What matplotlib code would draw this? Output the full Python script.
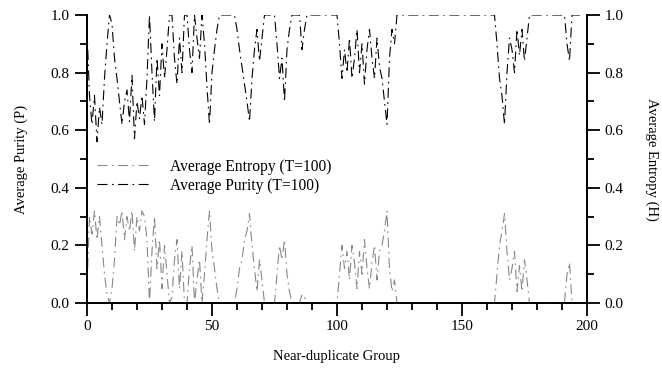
import numpy as np
import matplotlib
matplotlib.use("Agg")
import matplotlib.pyplot as plt
from matplotlib.ticker import MultipleLocator

plt.rcParams['font.family'] = ['Liberation Serif', 'DejaVu Serif']

groups = np.arange(200)

purity = [
    0.95, 0.72, 0.62, 0.72, 0.56, 0.68, 0.62, 0.78, 0.90, 1.00,
    0.97, 0.85, 0.78, 0.70, 0.62, 0.70, 0.74, 0.63, 0.79, 0.57,
    0.70, 0.64, 0.72, 0.62, 0.78, 1.00, 0.80, 0.63, 0.85, 0.72,
    0.90, 0.78, 0.88, 1.00, 1.00, 0.85, 0.76, 0.92, 0.80, 1.00,
    1.00, 0.88, 0.80, 1.00, 0.92, 0.85, 1.00, 0.90, 0.75, 0.62,
    0.80, 0.88, 0.95, 1.00, 1.00, 1.00, 1.00, 1.00, 1.00, 1.00,
    0.95, 0.88, 0.82, 0.76, 0.70, 0.63, 0.78, 0.88, 0.95, 0.84,
    0.92, 1.00, 1.00, 1.00, 1.00, 1.00, 0.90, 0.78, 0.85, 0.70,
    0.88, 0.95, 1.00, 1.00, 1.00, 1.00, 0.88, 0.95, 1.00, 1.00,
    1.00, 1.00, 1.00, 1.00, 1.00, 1.00, 1.00, 1.00, 1.00, 1.00,
    1.00, 0.90, 0.78, 0.88, 0.80, 0.92, 0.78, 0.85, 0.95, 0.80,
    0.90, 0.76, 0.88, 0.95, 0.85, 0.78, 0.92, 0.82, 0.78, 0.70,
    0.62, 0.85, 0.95, 0.90, 1.00, 1.00, 1.00, 1.00, 1.00, 1.00,
    1.00, 1.00, 1.00, 1.00, 1.00, 1.00, 1.00, 1.00, 1.00, 1.00,
    1.00, 1.00, 1.00, 1.00, 1.00, 1.00, 1.00, 1.00, 1.00, 1.00,
    1.00, 1.00, 1.00, 1.00, 1.00, 1.00, 1.00, 1.00, 1.00, 1.00,
    1.00, 1.00, 1.00, 1.00, 0.90, 0.78, 0.72, 0.62, 0.80, 0.92,
    0.88, 0.80, 0.95, 0.86, 0.95, 0.84, 0.92, 1.00, 1.00, 1.00,
    1.00, 1.00, 1.00, 1.00, 1.00, 1.00, 1.00, 1.00, 1.00, 1.00,
    1.00, 1.00, 0.90, 0.84, 1.00, 1.00, 1.00, 1.00, 1.00, 1.00,
]

entropy = [
    0.05, 0.30, 0.24, 0.32, 0.22, 0.30, 0.20, 0.10, 0.03, 0.00,
    0.05, 0.15, 0.30, 0.27, 0.32, 0.22, 0.30, 0.25, 0.32, 0.18,
    0.30, 0.25, 0.32, 0.30, 0.22, 0.00, 0.18, 0.30, 0.12, 0.22,
    0.05, 0.20, 0.10, 0.00, 0.02, 0.15, 0.22, 0.05, 0.18, 0.00,
    0.00, 0.12, 0.20, 0.00, 0.08, 0.15, 0.00, 0.10, 0.22, 0.32,
    0.18, 0.12, 0.05, 0.00, 0.00, 0.00, 0.00, 0.00, 0.00, 0.00,
    0.05, 0.12, 0.15, 0.22, 0.25, 0.31, 0.20, 0.12, 0.04, 0.15,
    0.08, 0.00, 0.00, 0.00, 0.00, 0.00, 0.10, 0.20, 0.15, 0.22,
    0.10, 0.04, 0.00, 0.00, 0.00, 0.00, 0.03, 0.02, 0.00, 0.00,
    0.00, 0.00, 0.00, 0.00, 0.00, 0.00, 0.00, 0.00, 0.00, 0.00,
    0.00, 0.10, 0.20, 0.12, 0.18, 0.08, 0.20, 0.14, 0.05, 0.18,
    0.10, 0.22, 0.12, 0.05, 0.14, 0.20, 0.08, 0.18, 0.20, 0.25,
    0.32, 0.12, 0.04, 0.08, 0.00, 0.00, 0.00, 0.00, 0.00, 0.00,
    0.00, 0.00, 0.00, 0.00, 0.00, 0.00, 0.00, 0.00, 0.00, 0.00,
    0.00, 0.00, 0.00, 0.00, 0.00, 0.00, 0.00, 0.00, 0.00, 0.00,
    0.00, 0.00, 0.00, 0.00, 0.00, 0.00, 0.00, 0.00, 0.00, 0.00,
    0.00, 0.00, 0.00, 0.00, 0.10, 0.20, 0.25, 0.31, 0.18, 0.08,
    0.12, 0.18, 0.04, 0.13, 0.04, 0.15, 0.08, 0.00, 0.00, 0.00,
    0.00, 0.00, 0.00, 0.00, 0.00, 0.00, 0.00, 0.00, 0.00, 0.00,
    0.00, 0.00, 0.10, 0.14, 0.00, 0.00, 0.00, 0.00, 0.00, 0.00,
]

fig = plt.figure(figsize=(6.62, 3.68), dpi=100)
ax = fig.add_axes([0.1314, 0.1766, 0.7553, 0.7826])
ax2 = ax.twinx()

l_ent, = ax2.plot(groups, entropy, color='#888888', lw=0.8,
                  dashes=(9, 4, 1.5, 4), label='Average Entropy (T=100)')
l_pur, = ax.plot(groups, purity, color='black', lw=0.8,
                 dashes=(9, 4, 1.5, 4), label='Average Purity (T=100)')

for a in (ax, ax2):
    a.set_xlim(0, 200)
    a.set_ylim(0, 1.0)
    a.spines['top'].set_visible(False)
    for s in a.spines.values():
        s.set_linewidth(1.3)

ax.xaxis.set_major_locator(MultipleLocator(50))
ax.xaxis.set_minor_locator(MultipleLocator(10))
ax.yaxis.set_major_locator(MultipleLocator(0.2))
ax.yaxis.set_minor_locator(MultipleLocator(0.1))
ax2.yaxis.set_major_locator(MultipleLocator(0.2))
ax2.yaxis.set_minor_locator(MultipleLocator(0.1))
ax.yaxis.set_major_formatter(plt.FormatStrFormatter('%.1f'))
ax2.yaxis.set_major_formatter(plt.FormatStrFormatter('%.1f'))

ax.tick_params(which='major', direction='out', length=9, width=1.3, labelsize=11)
ax.tick_params(which='minor', direction='out', length=5, width=1.3)
ax2.tick_params(which='major', direction='out', length=9, width=1.3, labelsize=11)
ax2.tick_params(which='minor', direction='out', length=5, width=1.3)

ax.set_xlabel('Near-duplicate Group', fontsize=10.5, labelpad=12)
ax.set_ylabel('Average Purity (P)', fontsize=10.5, labelpad=16)
ax2.set_ylabel('Average Entropy (H)', fontsize=10.5, rotation=-90, labelpad=25)

ax.legend(handles=[l_ent, l_pur], loc='center left', bbox_to_anchor=(0.02, 0.44),
          frameon=False, fontsize=11.2, handlelength=3.5, handletextpad=1.2,
          borderpad=0, borderaxespad=0, labelspacing=0.2)

fig.savefig('out.png', dpi=100)
